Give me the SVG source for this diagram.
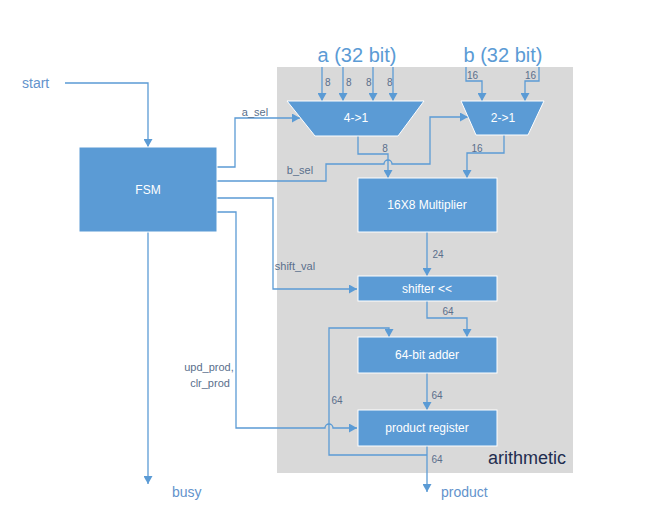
<svg xmlns="http://www.w3.org/2000/svg" width="653" height="521" viewBox="0 0 653 521">
<defs>
<marker id="arr" markerUnits="userSpaceOnUse" markerWidth="9" markerHeight="9" refX="8" refY="4.5" orient="auto">
<path d="M0,0 L8,4.5 L0,9 z" fill="#5b9bd5"/>
</marker>
<style>
.box{fill:#5b9bd5;stroke:#ffffff;stroke-width:1}
.btxt{font-family:"Liberation Sans",Arial,sans-serif;font-size:12px;fill:#ffffff;text-anchor:middle}
.wire{fill:none;stroke:#5b9bd5;stroke-width:1.3;marker-end:url(#arr)}
.lbl{font-family:"Liberation Sans",Arial,sans-serif;font-size:11px;fill:#5a6f8c}
.num{font-family:"Liberation Sans",Arial,sans-serif;font-size:10px;fill:#5a6f8c}
.io{font-family:"Liberation Sans",Arial,sans-serif;font-size:14px;fill:#6393cc}
.bus{font-family:"Liberation Sans",Arial,sans-serif;font-size:20px;fill:#5b9bd5;text-anchor:middle}
</style>
</defs>
<rect id="arithmetic-panel" x="277" y="67" width="296" height="406" fill="#d9d9d9"/>
<text x="527" y="464" font-family="'Liberation Sans',Arial,sans-serif" font-size="18" fill="#1f2d4f" text-anchor="middle">arithmetic</text>

<text class="bus" x="357" y="62">a (32 bit)</text>
<text class="bus" x="503" y="62">b (32 bit)</text>
<text class="io" x="22" y="88">start</text>
<text class="io" x="172" y="497">busy</text>
<text class="io" x="441" y="497">product</text>

<g id="connectors">
<path class="wire" d="M65,83 H148 V147"/>
<path class="wire" d="M217,167 H235 V118 H300"/>
<path class="wire" d="M217,181 H326 V164 H384 A4,4 0 0 1 392,164 H430 V117 H468"/>
<path class="wire" d="M217,198 H273 V289 H357"/>
<path class="wire" d="M217,212 H236 V428 H325 A4,4 0 0 1 333,428 H357"/>
<path class="wire" d="M148,232 V484"/>
<path class="wire" d="M322,67 V101"/>
<path class="wire" d="M343,67 V101"/>
<path class="wire" d="M373,67 V101"/>
<path class="wire" d="M393,67 V101"/>
<path class="wire" d="M466,67 V81 H482 V101"/>
<path class="wire" d="M539,67 V81 H525 V101"/>
<path class="wire" d="M358,136 V154 H388 V178"/>
<path class="wire" d="M504,135 V153 H467 V178"/>
<path class="wire" d="M427,232 V276"/>
<path class="wire" d="M427,301 V318 H467 V337"/>
<path class="wire" d="M427,373 V410"/>
<path class="wire" d="M427,446 V492"/>
<path class="wire" d="M427,455 H329 V328 H389 V337"/>
</g>

<g id="labels">
<text class="lbl" x="255" y="116" text-anchor="middle">a_sel</text>
<text class="lbl" x="300" y="174" text-anchor="middle">b_sel</text>
<text class="lbl" x="295" y="270" text-anchor="middle">shift_val</text>
<text class="lbl" x="209" y="371" text-anchor="middle">upd_prod,</text>
<text class="lbl" x="210" y="387" text-anchor="middle">clr_prod</text>
<text class="num" x="325" y="86">8</text>
<text class="num" x="346" y="86">8</text>
<text class="num" x="366" y="86">8</text>
<text class="num" x="387" y="86">8</text>
<text class="num" x="467" y="79">16</text>
<text class="num" x="525" y="79">16</text>
<text class="num" x="385" y="152" text-anchor="middle">8</text>
<text class="num" x="477" y="152" text-anchor="middle">16</text>
<text class="num" x="438" y="258" text-anchor="middle">24</text>
<text class="num" x="448" y="315" text-anchor="middle">64</text>
<text class="num" x="437" y="399" text-anchor="middle">64</text>
<text class="num" x="337" y="404" text-anchor="middle">64</text>
<text class="num" x="437" y="463" text-anchor="middle">64</text>
</g>

<g id="fsm">
<rect class="box" x="79" y="147" width="138" height="85"/>
<text class="btxt" x="148" y="194">FSM</text>
</g>
<g id="mux-a">
<polygon class="box" points="287,101 424,101 398,136 315,136"/>
<text class="btxt" x="356" y="122">4-&gt;1</text>
</g>
<g id="mux-b">
<polygon class="box" points="461,101 544,101 528,135 476,135"/>
<text class="btxt" x="503" y="122">2-&gt;1</text>
</g>
<g id="multiplier">
<rect class="box" x="358" y="178" width="139" height="54"/>
<text class="btxt" x="427" y="209">16X8 Multiplier</text>
</g>
<g id="shifter">
<rect class="box" x="358" y="276" width="139" height="25"/>
<text class="btxt" x="427" y="293">shifter &lt;&lt;</text>
</g>
<g id="adder">
<rect class="box" x="358" y="337" width="139" height="36"/>
<text class="btxt" x="427" y="359">64-bit adder</text>
</g>
<g id="product-register">
<rect class="box" x="358" y="410" width="139" height="36"/>
<text class="btxt" x="427" y="432">product register</text>
</g>
</svg>
